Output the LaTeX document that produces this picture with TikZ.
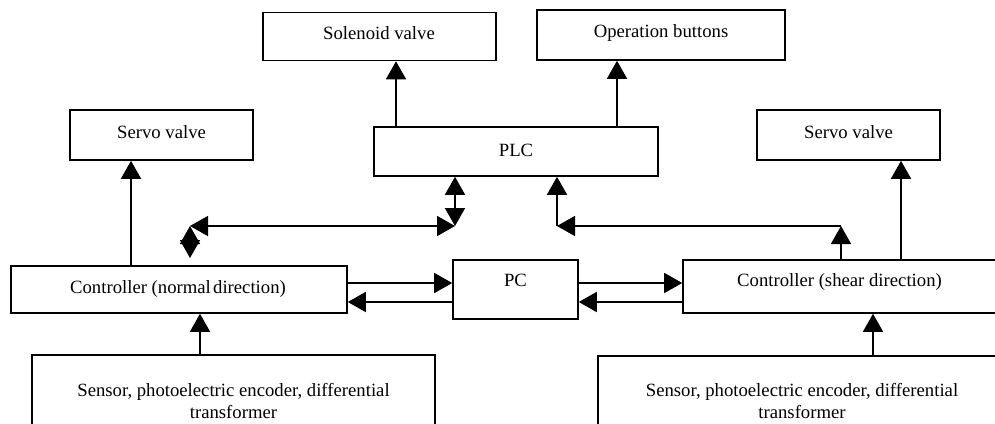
\documentclass[tikz,border=0pt]{standalone}
\usepackage{fontspec}
\setmainfont{Liberation Serif}
\usetikzlibrary{arrows.meta}
\begin{document}
\begin{tikzpicture}[x=1pt,y=-1pt,
  box/.style={draw, line width=1.6pt, inner sep=0pt},
  txt/.style={inner sep=0pt, font=\fontsize{18.7}{21.5}\selectfont, align=center},
  conn/.style={line width=1.6pt, -{Triangle[length=18pt,width=20pt]}},
  biconn/.style={line width=1.6pt, {Triangle[length=18pt,width=20pt]}-{Triangle[length=18pt,width=20pt]}},
  ]
\useasboundingbox (0,0) rectangle (995,423);
\clip (0,0) rectangle (995,423);
\fill[white] (0,0) rectangle (995,423);

% boxes (center x, center y, width, height)
\node[box, minimum width=233pt, minimum height=48pt] (sol) at (379.5,36.5) {};
\node[box, minimum width=248pt, minimum height=50pt] (ops) at (661,35) {};
\node[box, minimum width=183pt, minimum height=50pt] (svl) at (161.5,135) {};
\node[box, minimum width=284pt, minimum height=49pt] (plc) at (516,151.5) {};
\node[box, minimum width=183pt, minimum height=50pt] (svr) at (848.5,135) {};
\node[box, minimum width=336pt, minimum height=47pt] (cn) at (179,289.5) {};
\node[box, minimum width=125pt, minimum height=59pt] (pc) at (515.5,289.5) {};
\node[box, minimum width=313pt, minimum height=53pt] (cs) at (839.5,286.5) {};
\node[box, minimum width=403pt, minimum height=90pt] (snl) at (233.5,400) {};
\node[box, minimum width=408pt, minimum height=90pt] (snr) at (802,401) {};

% texts
\node[txt] (tsol) at (379,33) {Solenoid valve};
\node[txt] (tops) at (661,33) {Operation buttons};
\node[txt] (tsvl) at (161.5,132) {Servo valve};
\node[txt] (tplc) at (516,150) {PLC};
\node[txt] (tsvr) at (848.5,132) {Servo valve};
\node[txt] (tcn) at (178,289) {Controller (normal\hspace{0.12em}direction)};
\node[txt] (tpc) at (515.5,280) {PC};
\node[txt] (tcs) at (839.5,282) {Controller (shear direction)};
\node[txt] (tsnl) at (233.5,401) {Sensor, photoelectric encoder, differential\\transformer};
\node[txt] (tsnr) at (802,401) {Sensor, photoelectric encoder, differential\\transformer};

% junction coordinates
\coordinate (jl) at (190,226);
\coordinate (jld) at (190,258);
\coordinate (jm) at (455,226);
\coordinate (jr) at (557,226);
\coordinate (jrr) at (841,226);

% vertical connectors
\draw[conn] (plc.north -| 396,0) -- (sol.south -| 396,0);
\draw[conn] (plc.north -| 617,0) -- (ops.south -| 617,0);
\draw[conn] (cn.north -| 131,0) -- (svl.south -| 131,0);
\draw[conn] (cs.north -| 901,0) -- (svr.south -| 901,0);
\draw[conn] (snl.north -| 200,0) -- (cn.south -| 200,0);
\draw[conn] (snr.north -| 873,0) -- (cs.south -| 873,0);

% PC links
\draw[conn] (cn.east |- 0,283) -- (pc.west |- 0,283);
\draw[conn] (pc.west |- 0,302) -- (cn.east |- 0,302);
\draw[conn] (pc.east |- 0,283) -- (cs.west |- 0,283);
\draw[conn] (cs.west |- 0,302) -- (pc.east |- 0,302);

% PLC / normal controller link
\draw[biconn] (plc.south -| jm) -- (jm);
\draw[biconn] (jl) -- (jm);
\draw[biconn] (jl) -- (jld);

% PLC / shear controller link
\draw[conn] (cs.north -| jrr) -- (jrr);
\draw[conn] (jrr) -- (jr);
\draw[conn] (jr) -- (plc.south -| jr);
\end{tikzpicture}
\end{document}
